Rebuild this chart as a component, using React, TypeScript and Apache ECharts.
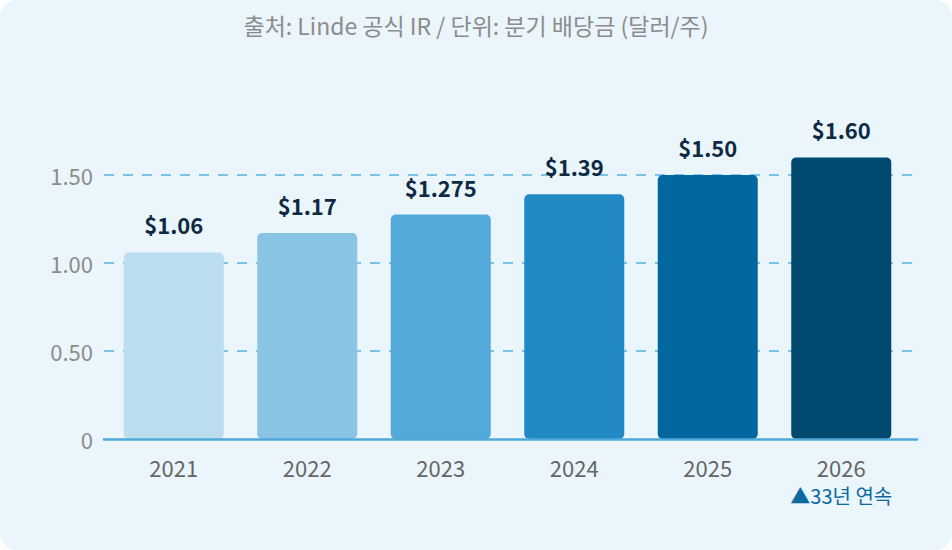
import React, { useEffect, useRef } from "react";
import * as echarts from "echarts";

const categories = ["2021", "2022", "2023", "2024", "2025", "2026"];
const dividends = [1.06, 1.17, 1.275, 1.39, 1.5, 1.6];
const valueLabels = ["$1.06", "$1.17", "$1.275", "$1.39", "$1.50", "$1.60"];
const barColors = ["#BADDF0", "#89C4E4", "#53A9D9", "#2189C3", "#03679F", "#004A70"];
const yTicks = [0, 0.5, 1.0, 1.5];
const yTickLabels = ["0", "0.50", "1.00", "1.50"];
const titleText = "출처: Linde 공식 IR / 단위: 분기 배당금 (달러/주)";
const streakNote = "▲33년 연속";

const FONT = "'Noto Sans CJK KR', 'Noto Sans', sans-serif";

export default function App() {
  const ref = useRef<HTMLDivElement>(null);
  useEffect(() => {
    document.body.style.margin = "0";
    if (!ref.current) return;
    const chart = echarts.init(ref.current, undefined, { renderer: "svg" });
    const yBase = { type: "value", min: 0, max: 2.0, interval: 0.5 };
    chart.setOption({
      animation: false,
      backgroundColor: "transparent",
      textStyle: { fontFamily: FONT },
      title: {
        text: titleText,
        left: "center",
        top: 8,
        textStyle: { fontFamily: FONT, fontSize: 23, fontWeight: "normal", color: "#8C8C8C" },
      },
      grid: [
        { left: 104, right: 35, top: 87, bottom: 111 },
        { left: 107, right: 44, top: 87, bottom: 111 },
      ],
      xAxis: [
        {
          type: "category",
          gridIndex: 0,
          data: categories,
          axisLine: { show: true, lineStyle: { color: "#4FA8D8", width: 2.5 } },
          axisTick: { show: false },
          axisLabel: { show: false },
          z: 3,
        },
        {
          type: "category",
          gridIndex: 1,
          data: categories,
          axisLine: { show: false },
          axisTick: { show: false },
          axisLabel: {
            interval: 0,
            margin: 14,
            color: "#666666",
            fontSize: 22,
            fontFamily: FONT,
            lineHeight: 28,
            formatter: (v: string) => (v === "2026" ? `${v}\n{n|${streakNote}}` : v),
            rich: {
              n: { color: "#0B6AA0", fontSize: 20, fontFamily: FONT, lineHeight: 28 },
            },
          },
        },
      ],
      yAxis: [
        {
          ...yBase,
          gridIndex: 0,
          axisLine: { show: false },
          axisTick: { show: false },
          axisLabel: {
            color: "#8C8C8C",
            fontSize: 22,
            fontFamily: FONT,
            margin: 11,
            showMaxLabel: false,
            formatter: (v: number) => {
              const i = yTicks.indexOf(v);
              return i >= 0 ? yTickLabels[i] : "";
            },
          },
          splitLine: {
            show: true,
            showMinLine: false,
            showMaxLine: false,
            lineStyle: { color: "#7DC3E6", width: 2, type: [10, 9] },
          },
        },
        {
          ...yBase,
          gridIndex: 1,
          show: false,
          splitLine: { show: false },
        },
      ],
      series: [
        {
          type: "bar",
          xAxisIndex: 1,
          yAxisIndex: 1,
          barWidth: 100,
          z: 2,
          data: dividends.map((v, i) => ({
            value: v,
            itemStyle: { color: barColors[i], borderRadius: 5 },
          })),
          label: {
            show: true,
            position: "top",
            distance: 17,
            formatter: (p: any) => valueLabels[p.dataIndex],
            color: "#0E2A42",
            fontSize: 22,
            fontWeight: "bold",
            fontFamily: FONT,
          },
        },
      ],
    });
    return () => chart.dispose();
  }, []);
  return (
    <div
      style={{
        position: "absolute",
        left: 0,
        top: 0,
        width: 952,
        height: 550,
        background: "#EAF5FC",
        borderRadius: 16,
        overflow: "hidden",
      }}
    >
      <div ref={ref} style={{ width: 952, height: 550 }} />
    </div>
  );
}
